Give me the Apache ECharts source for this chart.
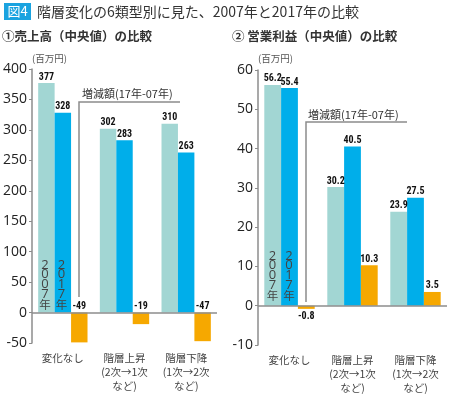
<!DOCTYPE html>
<html>
<head>
<meta charset="utf-8">
<script src="https://cdn.jsdelivr.net/npm/echarts@6/dist/echarts.min.js"></script>
<style>
html,body{margin:0;padding:0;background:#fff;}
#c{width:450px;height:401px;}
</style>
</head>
<body>
<div id="c"></div>
<script>
// ---- data ----
var categories = ['変化なし', '階層上昇\n(2次→1次\nなど)', '階層下降\n(1次→2次\nなど)'];
var sales2007 = [377, 302, 310];
var sales2017 = [328, 283, 263];
var salesDiff = [-49, -19, -47];
var profit2007 = [56.2, 30.2, 23.9];
var profit2017 = [55.4, 40.5, 27.5];
var profitDiff = [-0.8, 10.3, 3.5];
var salesTicks = {min: -50, max: 400, interval: 50};
var profitTicks = {min: -10, max: 60, interval: 10};
var yearNames = ['2007年', '2017年'];

var C_TEAL = '#a2d6d3', C_BLUE = '#00aeea', C_ORANGE = '#f6a800';
var FONT = '"Noto Sans CJK JP", "Noto Sans", sans-serif';
var NUMFONT = '"Liberation Sans Narrow", "Roboto Condensed", "Liberation Sans", sans-serif';
var AXIS_C = '#8c8c8c';

function valLabel(pos, dist) {
  return {show: true, position: pos, distance: dist, fontFamily: NUMFONT, fontWeight: 'bold',
          fontSize: 10, color: '#111'};
}
function fmt(p) { return String(p.value); }

function diffData(arr) {
  return arr.map(function (v) {
    if (v < 0 && Math.abs(v) < 5) {
      return {value: v, label: {position: 'bottom', distance: 3}};
    }
    return v;
  });
}

function barSeries(idx, data, color, isDiff) {
  return {
    type: 'bar', xAxisIndex: idx, yAxisIndex: idx, data: isDiff ? diffData(data) : data,
    barGap: '0%', barCategoryGap: '20%',
    itemStyle: {color: color},
    label: Object.assign(valLabel('top', 1), {formatter: fmt}),
    silent: true, animation: false
  };
}

function xAxisDef(idx) {
  return {
    type: 'category', gridIndex: idx, data: categories,
    axisLine: {show: false}, axisTick: {show: false},
    axisLabel: {fontFamily: FONT, fontSize: 10.5, color: '#444', lineHeight: 14, margin: 8, interval: 0}
  };
}
function yAxisDef(idx, t) {
  return {
    type: 'value', gridIndex: idx, min: t.min, max: t.max, interval: t.interval,
    splitLine: {show: false},
    axisLine: {show: true, lineStyle: {color: AXIS_C, width: 1.5}},
    axisTick: {show: true, length: 3, lineStyle: {color: AXIS_C, width: 1}},
    axisLabel: {fontFamily: '"Open Sans", sans-serif', fontSize: 14, color: '#222', margin: 5}
  };
}

var zeroLine = {
  silent: true, symbol: 'none', label: {show: false},
  lineStyle: {color: AXIS_C, type: 'solid', width: 1.5},
  data: [{yAxis: 0}], animation: false
};

var s = [
  barSeries(0, sales2007, C_TEAL),
  barSeries(0, sales2017, C_BLUE),
  barSeries(0, salesDiff, C_ORANGE, true),
  barSeries(1, profit2007, C_TEAL),
  barSeries(1, profit2017, C_BLUE),
  barSeries(1, profitDiff, C_ORANGE, true)
];
s[0].markLine = zeroLine;
s[3].markLine = zeroLine;

function vtext(x, y, name) {
  var out = [];
  name.split('').forEach(function (c, i) {
    var isDigit = /[0-9]/.test(c);
    out.push({type: 'text', x: x, y: y + i * 9.8 + (isDigit ? 4.9 : 5.4), z: 100, silent: true,
      style: {text: c, fontFamily: isDigit ? '"Open Sans", sans-serif' : FONT,
              fontSize: isDigit ? 13 : 11.5, fill: '#444', align: 'center', verticalAlign: 'middle'}});
  });
  return out;
}

var graphics = [
    {type: 'rect', shape: {x: 4, y: 3, width: 27, height: 17}, style: {fill: '#1aa3e0'}, silent: true},
    {type: 'text', x: 17.5, y: 11.5, silent: true,
     style: {text: '図4', fontFamily: FONT, fontSize: 13, fill: '#fff', align: 'center', verticalAlign: 'middle'}},
    {type: 'text', x: 37, y: 12, silent: true,
     style: {text: '階層変化の6類型別に見た、2007年と2017年の比較', fontFamily: FONT, fontSize: 14, fill: '#333', verticalAlign: 'middle'}},
    {type: 'text', x: 2, y: 36, silent: true,
     style: {text: '①売上高（中央値）の比較', fontFamily: FONT, fontSize: 12.5, fontWeight: 'bold', fill: '#333', verticalAlign: 'middle'}},
    {type: 'text', x: 232, y: 36, silent: true,
     style: {text: '② 営業利益（中央値）の比較', fontFamily: FONT, fontSize: 12.5, fontWeight: 'bold', fill: '#333', verticalAlign: 'middle'}},
    {type: 'text', x: 32, y: 58, silent: true,
     style: {text: '(百万円)', fontFamily: FONT, fontSize: 9.5, fill: '#555', verticalAlign: 'middle'}},
    {type: 'text', x: 258, y: 58, silent: true,
     style: {text: '(百万円)', fontFamily: FONT, fontSize: 9.5, fill: '#555', verticalAlign: 'middle'}},
    {type: 'text', x: 82, y: 94, silent: true,
     style: {text: '増減額(17年-07年)', fontFamily: FONT, fontSize: 11, fill: '#333', verticalAlign: 'middle'}},
    {type: 'polyline', silent: true, shape: {points: [[180, 102], [79, 102], [79, 297]]},
     style: {stroke: AXIS_C, lineWidth: 1.5, fill: null}},
    {type: 'text', x: 308, y: 115, silent: true,
     style: {text: '増減額(17年-07年)', fontFamily: FONT, fontSize: 11, fill: '#333', verticalAlign: 'middle'}},
    {type: 'polyline', silent: true, shape: {points: [[407, 122], [306, 122], [306, 302]]},
     style: {stroke: AXIS_C, lineWidth: 1.5, fill: null}}
];
graphics = graphics.concat(
  vtext(45, 260, yearNames[0]),
  vtext(61.5, 260, yearNames[1]),
  vtext(272.5, 251, yearNames[0]),
  vtext(289, 251, yearNames[1])
);

var chart = echarts.init(document.getElementById('c'), null, {renderer: 'canvas'});
chart.setOption({
  backgroundColor: '#fff',
  animation: false,
  grid: [
    {left: 32, right: 233, top: 69, bottom: 58},
    {left: 258, right: 3, top: 70, bottom: 56}
  ],
  xAxis: [xAxisDef(0), xAxisDef(1)],
  yAxis: [yAxisDef(0, salesTicks), yAxisDef(1, profitTicks)],
  series: s,
  graphic: graphics
});
</script>
</body>
</html>
